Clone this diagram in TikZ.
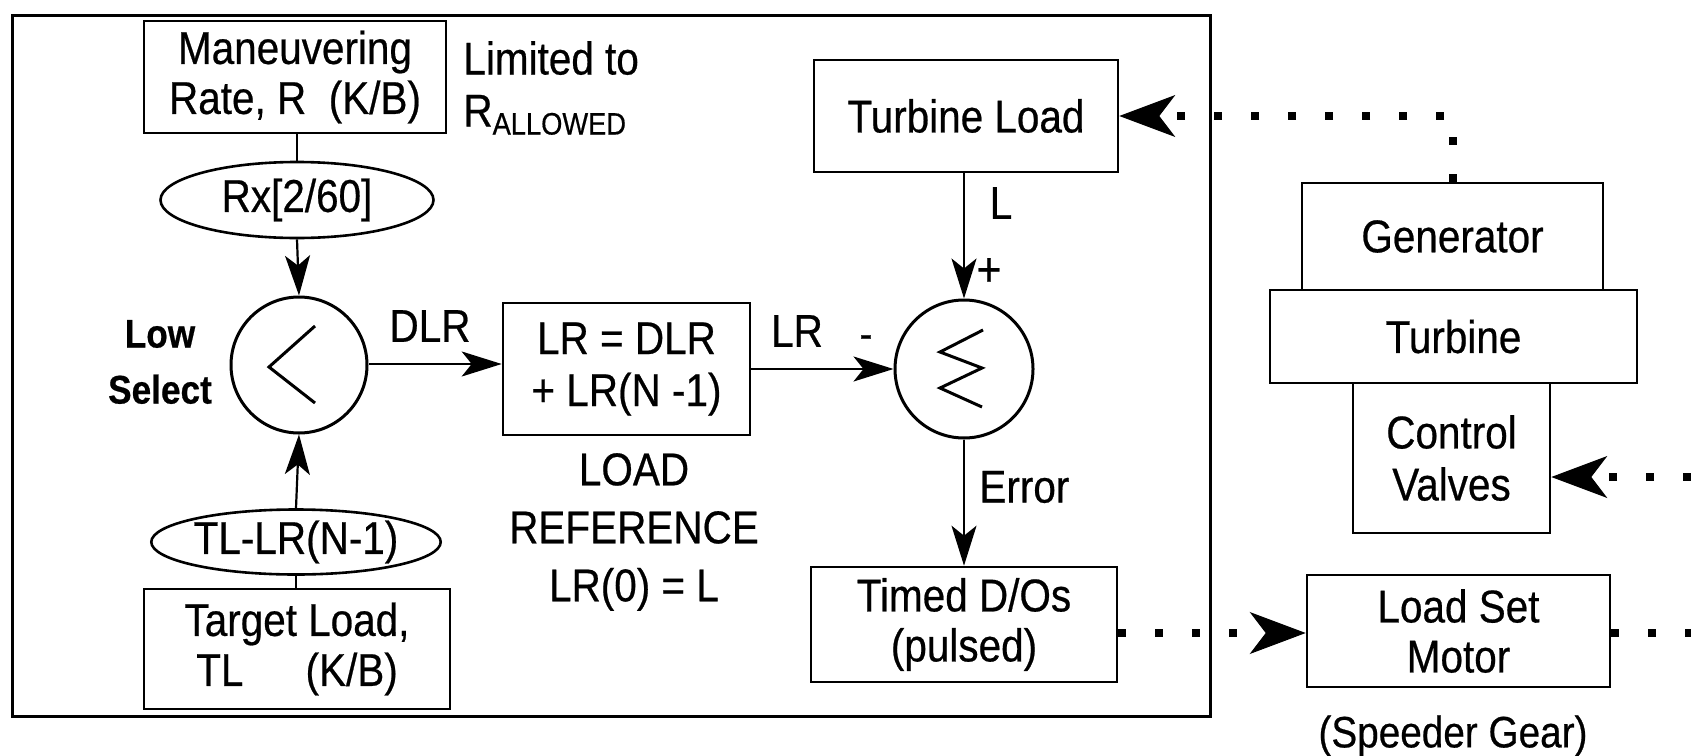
\documentclass[tikz,border=0pt]{standalone}
\usepackage{fontspec}
\setmainfont[FakeStretch=0.88,FakeBold=0.5]{Liberation Sans}
\usetikzlibrary{arrows.meta,shapes.geometric}
\begin{document}
\begin{tikzpicture}[x=0.5pt,y=-0.5pt,
  every node/.style={font=\fontsize{23}{25}\selectfont, inner sep=0pt},
  blk/.style={draw, line width=1.3pt, align=center},
  ell/.style={ellipse, draw, line width=1.3pt},
  ring/.style={circle, draw, line width=1.5pt},
  plain/.style={line width=1.1pt},
  conn/.style={line width=1.1pt, -{Stealth[length=20pt,width=12.5pt,inset=5pt]}},
  dots/.style={line width=4pt, dash pattern=on 4pt off 14.5pt},
  dtip/.style={-{Stealth[length=28pt,width=21pt,inset=8pt,line width=0.5pt]}},
]
\useasboundingbox (0,0) rectangle (1691,755);
% frame
\node[draw, line width=1.5pt, minimum width=599pt, minimum height=350.5pt] (frame) at (611,365.5) {};
% left column
\node[blk, minimum width=151pt, minimum height=56pt] (man) at (295,77) {Maneuvering\\Rate, R~~(K/B)};
\node[align=left, anchor=west] (lim) at (463,88) {Limited to\\[1pt]R\raisebox{-4pt}{\fontsize{15.5}{16}\selectfont ALLOWED}};
\node[ell, minimum width=136.5pt, minimum height=38pt] (rx) at (297,200) {Rx[2/60]};
\node[ring, minimum size=68pt] (ls) at (299,365) {};
\draw[line width=1.5pt] (ls.center) ++(16,-39) -- ++(-46,41) -- ++(46,36);
\node[font=\fontsize{20}{22}\selectfont\bfseries, align=center] (lowsel) at (160,362) {Low\\[6pt]Select};
\node[ell, minimum width=136pt, minimum height=32.5pt] (tl) at (296,542) {TL-LR(N-1)};
\node[blk, minimum width=153pt, minimum height=60pt] (tgt) at (297,649) {Target Load,\\TL\hspace{1.35em}(K/B)};
% middle
\node[blk, minimum width=123.5pt, minimum height=66pt] (lrb) at (626.5,369) {LR = DLR\\[1pt]+ LR(N -1)};
\node[align=center, font=\fontsize{23}{29}\selectfont] (ref) at (634,532) {LOAD\\REFERENCE\\LR(0) = L};
\node (dlr) at (430,326) {DLR};
\node (lrl) at (797,331) {LR};
\node[font=\fontsize{22}{22}\selectfont] (minus) at (866,342) {-};
\node[ring, minimum size=69pt] (sum) at (964,369) {};
\draw[line width=1.5pt] (sum.center) ++(19,-39) -- ++(-43,22) -- ++(42,16) -- ++(-42,20) -- ++(42,19);
\node[blk, minimum width=152pt, minimum height=56pt] (tlb) at (966,116) {Turbine Load};
\node (ll) at (1001,203) {L};
\node[font=\fontsize{24}{24}\selectfont] (plus) at (989,272) {+};
\node[anchor=west] (err) at (979,487) {Error};
\node[blk, minimum width=153pt, minimum height=57.5pt] (tdo) at (964,624.5) {Timed D/Os\\(pulsed)};
% right plant
\node[blk, minimum width=150.5pt, minimum height=53.5pt] (gen) at (1452.5,236.5) {Generator};
\node[blk, minimum width=183.5pt, minimum height=46.5pt] (turb) at (1453.5,336.5) {Turbine};
\node[blk, minimum width=98.5pt, minimum height=75pt] (cv) at (1451.5,458) {Control\\[1pt]Valves};
\node[blk, minimum width=151.5pt, minimum height=56pt] (lsm) at (1458.5,631) {Load Set\\Motor};
\node[font=\fontsize{22}{22}\selectfont] (spg) at (1453,736) {(Speeder Gear)};
\coordinate (e1) at (1691,633);
\coordinate (e2) at (1691,477);
% connectors
\draw[plain] (man.south -| rx.north) -- (rx.north);
\draw[conn] (rx.south) -- (ls.north);
\draw[plain] (tgt.north -| tl.south) -- (tl.south);
\draw[conn] (tl.north) -- (ls.south);
\draw[conn] (ls.east |- 0,364) -- (lrb.west |- 0,364);
\draw[conn] (lrb.east) -- (sum.west);
\draw[conn] (tlb.south -| sum.north) -- (sum.north);
\draw[conn] (sum.south) -- (tdo.north);
% dotted links
\draw[dots,dtip] (gen.north) |- (tlb.east);
\draw[dots,dtip] (e2) -- (e2 -| cv.east);
\draw[dots,dtip] (tdo.east |- e1) -- (lsm.west |- e1);
\draw[dots] (lsm.east |- e1) -- (e1);
\end{tikzpicture}
\end{document}
